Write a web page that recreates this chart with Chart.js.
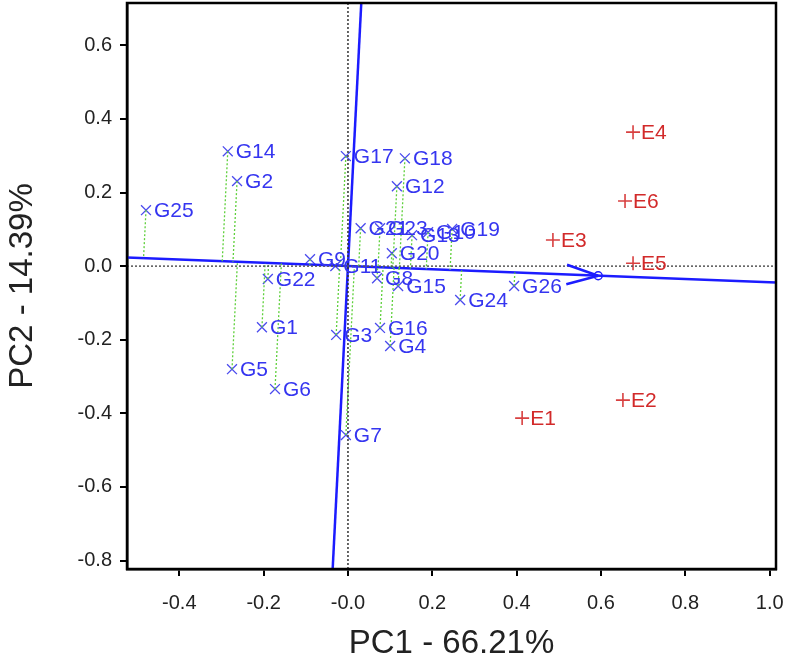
<!DOCTYPE html>
<html>
<head>
<meta charset="utf-8">
<script src="https://cdn.jsdelivr.net/npm/chart.js@4.4.1/dist/chart.umd.min.js"></script>
<style>
  html, body { margin: 0; padding: 0; background: #fff; }
  #wrap { width: 787px; height: 660px; }
</style>
</head>
<body>
<div id="wrap"><canvas id="biplot" width="787" height="660"></canvas></div>
<script>
// ---- data ----
const genoNames = ['G1','G2','G3','G4','G5','G6','G7','G8','G9','G10','G11','G12','G13',
                   'G14','G15','G16','G17','G18','G19','G20','G21','G22','G23','G24','G25','G26'];
const genoPC1 = [-0.204,-0.263,-0.028,0.100,-0.275,-0.173,-0.005,0.069,-0.090,0.190,-0.030,0.116,0.152,
                 -0.285,0.119,0.076,-0.005,0.135,0.247,0.104,0.030,-0.190,0.076,0.266,-0.479,0.394];
const genoPC2 = [-0.166,0.231,-0.187,-0.217,-0.280,-0.334,-0.459,-0.033,0.019,0.092,0.000,0.217,0.084,
                 0.312,-0.054,-0.168,0.299,0.293,0.101,0.035,0.103,-0.035,0.103,-0.092,0.152,-0.054];

const envNames = ['E1','E2','E3','E4','E5','E6'];
const envPC1 = [0.413,0.652,0.486,0.676,0.676,0.657];
const envPC2 = [-0.413,-0.364,0.071,0.364,0.008,0.177];

const xTicks = [-0.4,-0.2,0.0,0.2,0.4,0.6,0.8,1.0];
const xTickLabels = ['-0.4','-0.2','-0.0','0.2','0.4','0.6','0.8','1.0'];
const yTicks = [0.6,0.4,0.2,0.0,-0.2,-0.4,-0.6,-0.8];
const yTickLabels = ['0.6','0.4','0.2','0.0','-0.2','-0.4','-0.6','-0.8'];

const X_MIN = -0.524, X_MAX = 1.015, Y_MIN = -0.823, Y_MAX = 0.715;

// ---- derived: average environment and AEC axes ----
const meanX = envPC1.reduce((a, b) => a + b, 0) / envPC1.length;
const meanY = envPC2.reduce((a, b) => a + b, 0) / envPC2.length;
const slope = meanY / meanX;            // abscissa through origin and mean env
const len = Math.hypot(meanX, meanY);
const ux = meanX / len, uy = meanY / len;

const BLUE = '#1c1cff';
const LABEL_BLUE = '#3535f0';
const RED = '#d22a2a';
const GREEN = '#5fd03c';
const FONT = '"Liberation Sans", Arial, sans-serif';

const projSets = genoNames.map((n, i) => {
  const dot = genoPC1[i] * ux + genoPC2[i] * uy;
  return {
    type: 'line',
    data: [{ x: genoPC1[i], y: genoPC2[i] }, { x: dot * ux, y: dot * uy }],
    borderColor: GREEN, borderWidth: 1.3, borderDash: [2, 2],
    pointRadius: 0, fill: false
  };
});

const datasets = [
  { // dotted reference axes
    type: 'line', data: [{ x: X_MIN, y: 0 }, { x: X_MAX, y: 0 }],
    borderColor: '#555', borderWidth: 1.5, borderDash: [2, 2], pointRadius: 0
  },
  {
    type: 'line', data: [{ x: 0, y: Y_MIN }, { x: 0, y: Y_MAX }],
    borderColor: '#333', borderWidth: 1.5, borderDash: [2, 2], pointRadius: 0
  },
  ...projSets,
  { // AEC abscissa
    type: 'line', data: [{ x: X_MIN, y: slope * X_MIN }, { x: X_MAX, y: slope * X_MAX }],
    borderColor: BLUE, borderWidth: 2.5, pointRadius: 0
  },
  { // AEC ordinate
    type: 'line', data: [{ x: -slope * Y_MIN, y: Y_MIN }, { x: -slope * Y_MAX, y: Y_MAX }],
    borderColor: BLUE, borderWidth: 2.5, pointRadius: 0
  },
  {
    label: 'genotypes', kind: 'G',
    data: genoNames.map((n, i) => ({ x: genoPC1[i], y: genoPC2[i] })),
    pointStyle: 'crossRot', pointRadius: 7, borderColor: '#4a4aee', borderWidth: 1.3
  },
  {
    label: 'environments', kind: 'E',
    data: envNames.map((n, i) => ({ x: envPC1[i], y: envPC2[i] })),
    pointStyle: 'cross', pointRadius: 7, borderColor: '#d84040', borderWidth: 1.6
  },
  {
    label: 'mean', kind: 'M',
    data: [{ x: meanX, y: meanY }],
    pointStyle: 'circle', pointRadius: 4, borderColor: BLUE, borderWidth: 1.5,
    backgroundColor: 'rgba(0,0,0,0)'
  }
];

const pointLabels = {
  id: 'pointLabels',
  afterDatasetsDraw(chart) {
    const ctx = chart.ctx;
    ctx.save();
    ctx.font = '21px ' + FONT;
    ctx.textBaseline = 'middle';
    ctx.textAlign = 'left';
    chart.data.datasets.forEach((ds, di) => {
      if (ds.kind !== 'G' && ds.kind !== 'E') return;
      const names = ds.kind === 'G' ? genoNames : envNames;
      ctx.fillStyle = ds.kind === 'G' ? LABEL_BLUE : RED;
      chart.getDatasetMeta(di).data.forEach((pt, i) => {
        ctx.fillText(names[i], pt.x + 8, pt.y + 1);
      });
    });
    // arrow head on the average-environment axis
    const xs = chart.scales.x, ys = chart.scales.y;
    const tx = xs.getPixelForValue(meanX), ty = ys.getPixelForValue(meanY);
    const dx = xs.getPixelForValue(1) - xs.getPixelForValue(0);
    const dy = ys.getPixelForValue(slope) - ys.getPixelForValue(0);
    const a = Math.atan2(dy, dx);
    ctx.strokeStyle = BLUE;
    ctx.lineWidth = 2.5;
    ctx.beginPath();
    [-0.3, 0.3].forEach(off => {
      ctx.moveTo(tx, ty);
      ctx.lineTo(tx - 33 * Math.cos(a + off), ty - 33 * Math.sin(a + off));
    });
    ctx.stroke();
    // frame
    const ca = chart.chartArea;
    ctx.strokeStyle = '#000';
    ctx.lineWidth = 2.5;
    ctx.strokeRect(ca.left, ca.top, ca.right - ca.left, ca.bottom - ca.top);
    ctx.restore();
  }
};

new Chart(document.getElementById('biplot').getContext('2d'), {
  type: 'scatter',
  data: { datasets: datasets },
  options: {
    responsive: false,
    animation: false,
    layout: { autoPadding: false, padding: { top: 3, right: 11, bottom: 0, left: 0 } },
    plugins: { legend: { display: false }, tooltip: { enabled: false } },
    scales: {
      x: {
        type: 'linear', min: X_MIN, max: X_MAX,
        afterBuildTicks: s => { s.ticks = xTicks.map(v => ({ value: v })); },
        afterFit: s => { s.height = 91; s.paddingLeft = 0; s.paddingRight = 0; },
        ticks: {
          callback: (v, i) => xTickLabels[i],
          color: '#222', padding: 15, maxRotation: 0,
          font: { family: FONT, size: 20 }
        },
        grid: { drawOnChartArea: false, drawTicks: true, tickLength: 7, color: '#000', lineWidth: 2 },
        border: { display: true, color: '#000', width: 2.5 },
        title: {
          display: true, text: 'PC1 - 66.21%', color: '#222',
          padding: { top: 0, bottom: 0 },
          font: { family: FONT, size: 33, lineHeight: 1 }
        }
      },
      y: {
        type: 'linear', min: Y_MIN, max: Y_MAX,
        afterBuildTicks: s => { s.ticks = yTicks.map(v => ({ value: v })); },
        afterFit: s => { s.width = 127; s.paddingTop = 0; s.paddingBottom = 0; },
        ticks: {
          callback: (v, i) => yTickLabels[i],
          color: '#222', padding: 8,
          font: { family: FONT, size: 20 }
        },
        grid: { drawOnChartArea: false, drawTicks: true, tickLength: 7, color: '#000', lineWidth: 2 },
        border: { display: true, color: '#000', width: 2.5 },
        title: {
          display: true, text: 'PC2 - 14.39%', color: '#222',
          padding: { top: 6, bottom: 0 },
          font: { family: FONT, size: 33, lineHeight: 1 }
        }
      }
    }
  },
  plugins: [pointLabels]
});
</script>
</body>
</html>
